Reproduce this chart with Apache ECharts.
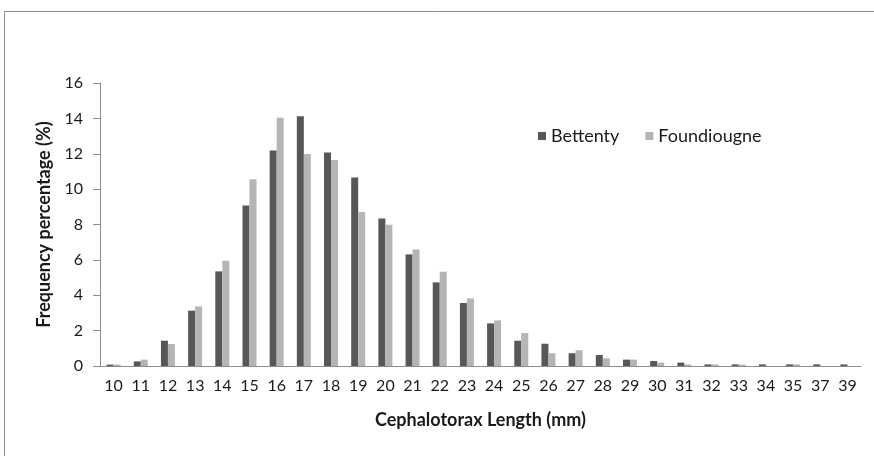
<!DOCTYPE html>
<html>
<head>
<meta charset="utf-8">
<script src="https://cdn.jsdelivr.net/npm/echarts@6/dist/echarts.min.js"></script>
<style>
  html, body { margin: 0; padding: 0; background: #fff; }
  #chart { width: 874px; height: 456px; }
</style>
</head>
<body>
<div id="chart"></div>
<script>
const lengths = ["10", "11", "12", "13", "14", "15", "16", "17", "18", "19", "20", "21", "22", "23",
  "24", "25", "26", "27", "28", "29", "30", "31", "32", "33", "34", "35", "37", "39"];
const bettenty = [0.08, 0.26, 1.43, 3.13, 5.35, 9.08, 12.18, 14.12, 12.07, 10.66, 8.34, 6.31, 4.73, 3.56,
  2.41, 1.43, 1.26, 0.72, 0.62, 0.36, 0.28, 0.19, 0.09, 0.09, 0.09, 0.09, 0.09, 0.09];
const foundiougne = [0.08, 0.36, 1.24, 3.37, 5.95, 10.56, 14.03, 11.98, 11.64, 8.70, 7.98, 6.59, 5.33, 3.82,
  2.58, 1.86, 0.72, 0.89, 0.43, 0.36, 0.19, 0.09, 0.09, 0.08, 0, 0.09, 0, 0];

const font = "Lato, 'Open Sans', sans-serif";
const chart = echarts.init(document.getElementById("chart"));

chart.setOption({
  animation: false,
  graphic: [
    {
      type: "rect",
      shape: { x: 4.5, y: 11.5, width: 900, height: 500 },
      style: { fill: null, stroke: "#8c8c8c", lineWidth: 1 },
      silent: true,
    },
  ],
  legend: {
    left: 533,
    top: 122,
    itemWidth: 8,
    itemHeight: 8,
    itemGap: 26,
    icon: "rect",
    textStyle: { fontFamily: font, fontSize: 18, color: "#1a1a1a", padding: [0, 0, 0, 0] },
    data: ["Bettenty", "Foundiougne"],
  },
  grid: { left: 100, right: 13, top: 83, bottom: 90 },
  xAxis: {
    type: "category",
    data: lengths,
    name: "Cephalotorax Length (mm)",
    nameLocation: "middle",
    nameGap: 45,
    nameTextStyle: { fontFamily: font, fontSize: 18, fontWeight: "bold", color: "#1a1a1a" },
    axisLine: { lineStyle: { color: "#8c8c8c" } },
    axisTick: { show: false },
    axisLabel: { fontFamily: font, fontSize: 16, color: "#1a1a1a", margin: 12, interval: 0 },
  },
  yAxis: {
    type: "value",
    min: 0,
    max: 16,
    interval: 2,
    name: "Frequency percentage (%)",
    nameLocation: "middle",
    nameGap: 44,
    nameTextStyle: { fontFamily: font, fontSize: 18, fontWeight: "bold", color: "#1a1a1a" },
    axisLine: { show: true, lineStyle: { color: "#8c8c8c" } },
    axisTick: { show: true, length: 7, lineStyle: { color: "#8c8c8c" } },
    axisLabel: { fontFamily: font, fontSize: 16, color: "#1a1a1a", margin: 17 },
    splitLine: { show: false },
  },
  series: [
    {
      name: "Bettenty",
      type: "bar",
      data: bettenty,
      barWidth: 7,
      barGap: "0%",
      itemStyle: { color: "#575757" },
    },
    {
      name: "Foundiougne",
      type: "bar",
      data: foundiougne,
      barWidth: 7,
      itemStyle: { color: "#b5b5b5" },
    },
  ],
});
</script>
</body>
</html>
